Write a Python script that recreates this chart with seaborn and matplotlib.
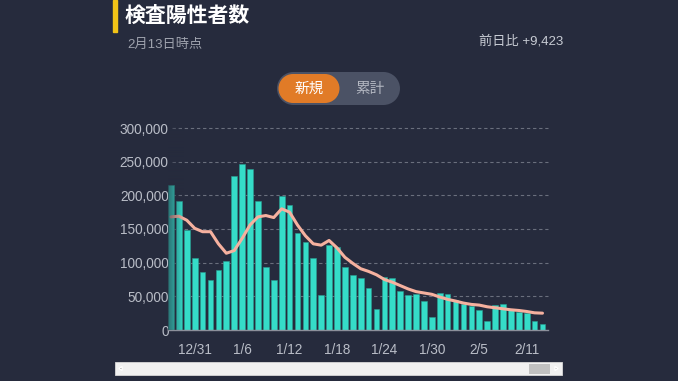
import numpy as np
import pandas as pd
import matplotlib
matplotlib.use("Agg")
import matplotlib.pyplot as plt
from matplotlib.patches import Rectangle, Polygon
from matplotlib.colors import to_rgb
import seaborn as sns

# daily new positives, 12/28 .. 2/13
dates = pd.date_range("2022-12-28", "2023-02-13", freq="D")
new_cases = [
    216000, 192000, 149000, 107000, 86000, 75000, 89000, 103000, 228000, 246000,
    239000, 191000, 94000, 74000, 199000, 185000, 144000, 131000, 107000, 52000,
    126000, 123000, 94000, 81000, 77000, 63000, 31000, 78000, 77000, 58000,
    52000, 53000, 43000, 19000, 55000, 53000, 44000, 38000, 36000, 30000,
    13500, 37000, 39000, 31000, 27000, 25000, 13000, 9423,
]
# 7-day average line
avg_cases = [
    168000, 169000, 163000, 151000, 146000, 146000, 128000, 114000, 118000, 136000,
    156000, 168000, 170000, 167000, 180000, 175000, 156000, 140000, 128000, 126000,
    133000, 122000, 108000, 99000, 91000, 87000, 82000, 75000, 71000, 66000,
    61000, 57000, 55000, 53000, 49000, 45500, 43000, 40000, 38000, 37000,
    34500, 33000, 31500, 30000, 29000, 27500, 25500, 25000,
]
tick_labels = ["12/31", "1/6", "1/12", "1/18", "1/24", "1/30", "2/5", "2/11"]
y_ticks = [0, 50000, 100000, 150000, 200000, 250000, 300000]

BG = "#262b3d"
BAR = "#35dcc8"
LINE = "#f6b19f"
GRID = "#6a6f7d"
TEXT = "#b9bdc7"

sns.set_theme(style="dark", rc={"axes.facecolor": BG, "figure.facecolor": BG})
plt.rcParams["font.family"] = ["Liberation Sans", "Noto Sans CJK JP", "DejaVu Sans"]

df = pd.DataFrame({
    "pos": np.arange(len(dates)),
    "label": [f"{d.month}/{d.day}" for d in dates],
    "new": new_cases,
    "avg": avg_cases,
})

W, H = 678, 381
fig = plt.figure(figsize=(W / 100, H / 100), dpi=100)

# overlay in pixel coords for header, toggle and scrollbar
bg = fig.add_axes([0, 0, 1, 1], zorder=0)
bg.set_xlim(0, W)
bg.set_ylim(H, 0)
bg.axis("off")

bg.add_patch(Rectangle((113, 0), 3.5, 32, color="#f2c417"))
bg.text(125, 16, "検査陽性者数", color="white", fontsize=15, fontweight="bold",
        va="center", ha="left")
bg.text(127, 45, "2月13日時点", color="#9ea2ad", fontsize=9.5, va="center", ha="left")
bg.text(563, 41, "前日比 +9,423", color="#c8ccd4", fontsize=9.5, va="center", ha="right")

# toggle
bg.add_patch(Rectangle((277 + 16, 72), 123 - 32, 33, fc="#4b5265", ec="none"))
bg.add_patch(plt.Circle((277 + 16.5, 88.5), 16.5, fc="#4b5265", ec="none"))
bg.add_patch(plt.Circle((400 - 16.5, 88.5), 16.5, fc="#4b5265", ec="none"))
bg.add_patch(Rectangle((278.5 + 14.5, 74), 61 - 29, 29, fc="#e17b27", ec="none"))
bg.add_patch(plt.Circle((278.5 + 14.5, 88.5), 14.5, fc="#e17b27", ec="none"))
bg.add_patch(plt.Circle((339.5 - 14.5, 88.5), 14.5, fc="#e17b27", ec="none"))
bg.text(309, 88.5, "新規", color="white", fontsize=10.5, ha="center", va="center")
bg.text(370, 88.5, "累計", color="#b3b7c1", fontsize=10.5, ha="center", va="center")

# scrollbar
bg.add_patch(Rectangle((115, 362), 447, 13, fc="#f1f1f1", ec="#d8d8d8", lw=0.6))
bg.add_patch(Rectangle((529, 363.5), 21, 10, fc="#c1c1c1", ec="none"))
bg.add_patch(Polygon([(119, 368.5), (122, 366.5), (122, 370.5)], closed=True, fc="#707070"))
bg.add_patch(Polygon([(558, 368.5), (555, 366.5), (555, 370.5)], closed=True, fc="#a0a0a0"))

# chart axes: left 168px, right 548px, baseline 330px, 300k at 128px
ax = fig.add_axes([168 / W, (H - 330) / H, 380 / W, 202 / H], zorder=1)
ax.set_facecolor("none")

sns.barplot(data=df, x="pos", y="new", color=BAR, width=0.72, saturation=1,
            edgecolor="#2a9e92", linewidth=0.4, ax=ax, zorder=2)
sns.lineplot(data=df, x="pos", y="avg", color=LINE, linewidth=2.2, ax=ax, zorder=3)

px_per_day = 7.904
x0, x1 = (168 - 171) / px_per_day, (548 - 171) / px_per_day

# fade at the left edge of the scrolled window
fade = np.zeros((1, 64, 4))
fade[..., :3] = to_rgb(BG)
fade[0, :, 3] = np.linspace(0.6, 0.0, 64)
ax.imshow(fade, extent=(x0, x0 + 16 / px_per_day, 0, 300000), aspect="auto",
          zorder=4, interpolation="bilinear")
ax.set_xlim(x0, x1)
ax.set_ylim(0, 300000)

ax.set_yticks(y_ticks)
ax.set_yticklabels([f"{v:,}" for v in y_ticks])
tick_pos = [df.index[df["label"] == t][0] for t in tick_labels]
ax.set_xticks(tick_pos)
ax.set_xticklabels(tick_labels)
ax.tick_params(axis="both", colors=TEXT, labelsize=9.8, length=0)
ax.tick_params(axis="y", pad=-0.5)
ax.tick_params(axis="x", pad=9)
ax.set_xlabel("")
ax.set_ylabel("")

ax.grid(False)
for v in y_ticks[1:]:
    ax.axhline(v, xmin=4 / 380, color=GRID, lw=0.8, ls=(0, (3, 2.5)), zorder=1,
               clip_on=False)
for s in ["top", "right", "left"]:
    ax.spines[s].set_visible(False)
ax.spines["bottom"].set_color("#8c909b")
ax.spines["bottom"].set_linewidth(1.0)

fig.savefig("out.png", dpi=100, facecolor=BG)
